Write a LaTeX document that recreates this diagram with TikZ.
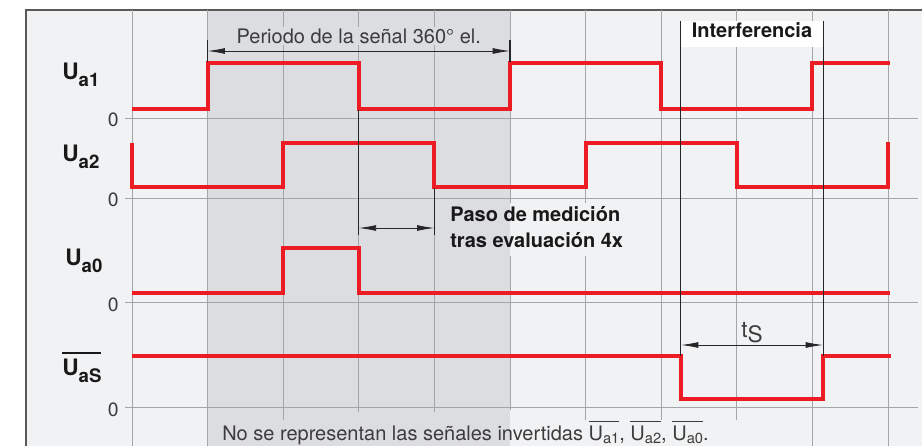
\documentclass[tikz,border=0pt]{standalone}
\usepackage{fontspec}
\setmainfont{TeX Gyre Heros}
\usetikzlibrary{positioning,arrows.meta,calc}

\definecolor{paneBg}{HTML}{F1F2F4}
\definecolor{bandBg}{HTML}{DCDDE0}
\definecolor{gridGray}{HTML}{A4A5A8}
\definecolor{sigRed}{HTML}{ED1C24}
\definecolor{inkGray}{HTML}{3C3C3C}

\newcommand{\sigsub}[1]{\raisebox{-5.5pt}{\fontsize{14}{14}\selectfont #1}}
\newcommand{\notesub}[1]{\raisebox{-2.5pt}{\fontsize{11}{11}\selectfont #1}}
\newcommand{\barred}[3]{\vbox{\hrule height #1\kern #2\hbox{#3}}}

\begin{document}
\begin{tikzpicture}[
  x=0.75pt, y=-0.75pt,
  gridLine/.style={draw=gridGray, line width=0.75pt},
  sigLine/.style={draw=sigRed, line width=3pt},
  markLine/.style={draw=black!85, line width=0.9pt},
  dimArrow/.style={draw=black!85, line width=0.6pt,
    {Latex[length=13pt,width=4.4pt]}-{Latex[length=13pt,width=4.4pt]}},
  sigLabel/.style={anchor=base west, inner sep=0pt, text=black!90,
    font=\fontsize{17}{19}\selectfont\bfseries},
  zeroLabel/.style={anchor=east, inner sep=0pt, text=inkGray,
    font=\fontsize{14.5}{16}\selectfont},
  noteText/.style={inner sep=0pt, text=inkGray, font=\fontsize{15}{18}\selectfont},
  boldNote/.style={inner sep=0pt, text=black!90,
    font=\fontsize{15}{19.3}\selectfont\bfseries}
]
  \useasboundingbox (0,0) rectangle (922,446);
  % panels
  \fill[white] (0,0) rectangle (922,446);
  \fill[paneBg] (26,10) rectangle (922,446);
  \fill[bandBg] (207.6,10) rectangle (510,446);
  \draw[black!65, line width=1pt] (26,446) -- (26,10) -- (922,10);

  % grid
  \foreach \gx/\gbot in {132/446, 207.6/446, 283.2/420, 358.8/412, 434.4/412,
                         661.2/420, 736.8/420, 812.4/446, 888/446}
    \draw[gridLine] (\gx,10) -- (\gx,\gbot);
  \foreach \gx/\gbot in {510/410, 585.6/420} {
    \draw[gridLine] (\gx,10) -- (\gx,203);
    \draw[gridLine] (\gx,256) -- (\gx,\gbot);
  }
  \foreach \gy [count=\k] in {118.5, 198.5, 302.7, 407.7} {
    \draw[gridLine] (125,\gy) -- (918,\gy);
    \node[zeroLabel] (z\k) at (119,\gy+1.6) {0};
  }

  % signals
  \draw[sigLine] (132,109) -| (207.6,63) -| (358.8,109) -| (510,63)
    -| (661.2,109) -| (812.4,63) -- (890,63);
  \draw[sigLine] (132,143) -- (132,187) -| (283.2,143) -| (434.4,187)
    -| (585.6,143) -| (736.8,187) -| (888,142);
  \draw[sigLine] (132,293) -| (283.2,248) -| (358.8,293) -- (890,293);
  \draw[sigLine] (132,356) -| (681,399) -| (823,356) -- (891,356);

  \node[sigLabel] (la1) at (62,79) {U\sigsub{a1}};
  \node[sigLabel] (la2) at (62,161) {U\sigsub{a2}};
  \node[sigLabel] (la0) at (65,265) {U\sigsub{a0}};
  \node[sigLabel] (laS) at (62,375) {\barred{1.8pt}{3pt}{U\sigsub{aS}}};

  % period
  \coordinate (perA) at (207.6,51);
  \coordinate (perB) at (510,51);
  \draw[markLine] (207.6,40) -- (207.6,62) (510,40) -- (510,62);
  \draw[dimArrow] (perA) -- (perB);
  \node[noteText, fill=bandBg, anchor=base, inner sep=1pt] (per) at (358.8,43)
    {Periodo de la señal 360° el.};

  % measuring step
  \coordinate (stepA) at (358.8,228);
  \coordinate (stepB) at (434.4,228);
  \draw[markLine] (358.8,110) -- (358.8,235) (434.4,188) -- (434.4,235);
  \draw[dimArrow] (stepA) -- (stepB);
  \node[boldNote, align=left, anchor=north west] (step) at (450,206)
    {Paso de medición\\tras evaluación 4x};

  % interference
  \node[boldNote, fill=white, minimum width=106.5pt, minimum height=19.5pt,
    text depth=7pt, anchor=north] (interf) at (752,21) {Interferencia};
  \coordinate (sFall) at (681,356);
  \coordinate (sRise) at (823,356);
  \draw[markLine] (interf.north west) -- (interf.north west |- sFall);
  \draw[markLine] (interf.north east) -- (interf.north east |- sRise);
  \coordinate (tsA) at (681,345);
  \coordinate (tsB) at (823,345);
  \draw[dimArrow] (tsA) -- (tsB)
    node[noteText, font=\fontsize{17}{18}\selectfont, midway, above=1pt] (ts)
    {t\raisebox{-4pt}{S}};

  % note
  \node[noteText, anchor=base west] (note) at (222,440)
    {No se representan las señales invertidas
     \barred{0.8pt}{2.4pt}{U\notesub{a1}},
     \barred{0.8pt}{2.4pt}{U\notesub{a2}},
     \barred{0.8pt}{2.4pt}{U\notesub{a0}}.};
\end{tikzpicture}
\end{document}
